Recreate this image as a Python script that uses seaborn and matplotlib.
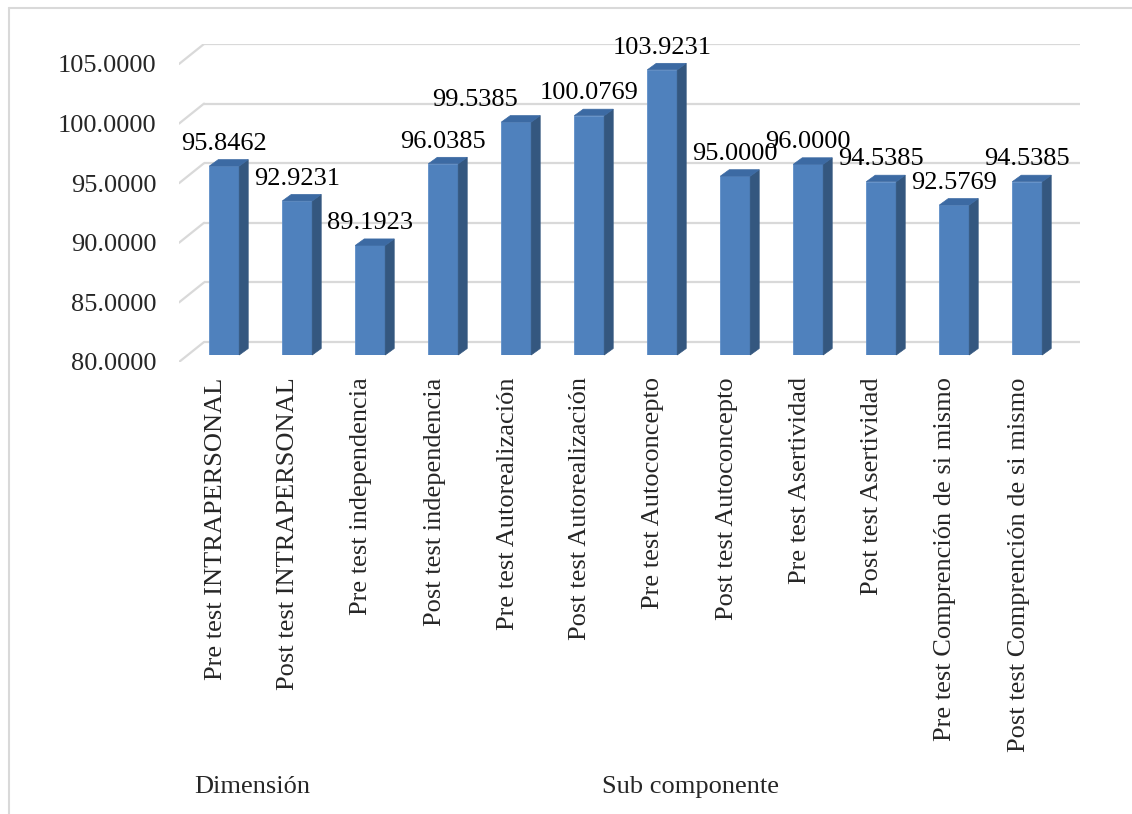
import matplotlib
matplotlib.use("Agg")
import matplotlib.pyplot as plt
import matplotlib.transforms as mtransforms
from matplotlib.patches import Polygon
from matplotlib.lines import Line2D
import seaborn as sns
import pandas as pd

# ---- data -------------------------------------------------------------
categories = [
    "Pre test INTRAPERSONAL",
    "Post test INTRAPERSONAL",
    "Pre test independencia",
    "Post test independencia",
    "Pre test Autorealización",
    "Post test Autorealización",
    "Pre test Autoconcepto",
    "Post test Autoconcepto",
    "Pre test Asertividad",
    "Post test Asertividad",
    "Pre test Comprención de si mismo",
    "Post test Comprención de si mismo",
]
values = [95.8462, 92.9231, 89.1923, 96.0385, 99.5385, 100.0769,
          103.9231, 95.0000, 96.0000, 94.5385, 92.5769, 94.5385]
groups = ["Dimensión", "Dimensión"] + ["Sub componente"] * 10
group_names = ["Dimensión", "Sub componente"]
y_ticks = [80, 85, 90, 95, 100, 105]

# ---- style ------------------------------------------------------------
sns.set_theme(style="white")
plt.rcParams["font.family"] = ["Liberation Serif", "DejaVu Serif"]
FS = 19
FRONT = "#4F81BD"
SIDE = "#34577F"
TOP = "#3C6AA3"
GRID = "#D9D9D9"

# horizontal nudge (points) for value labels that would otherwise collide
label_nudge = {4: -29.5}

W, H = 1132, 814
fig = plt.figure(figsize=(W / 100, H / 100), dpi=100)

# pseudo-3D geometry (pixels)
cat_px = 73.0
left_px, right_px = 179, 179 + 12 * cat_px + 25
top_px, bot_px = 44, 362
grid_dx, grid_dy = 25 / cat_px, 20 / ((bot_px - top_px) / 26.675)
y_lo, y_hi = y_ticks[0], y_ticks[-1] + grid_dy
x_lo, x_hi = -0.5, 11.5 + grid_dx

rect = [left_px / W, 1 - bot_px / H, (right_px - left_px) / W, (bot_px - top_px) / H]

# wall / floor grid axes
ax = fig.add_axes(rect)
ax.set_xlim(x_lo, x_hi)
ax.set_ylim(y_lo, y_hi)
for s in ax.spines.values():
    s.set_visible(False)
for t in y_ticks:
    ax.plot([-0.5 + grid_dx, 11.5 + grid_dx], [t + grid_dy, t + grid_dy],
            color=GRID, lw=1.6, solid_capstyle="butt", zorder=0)
    ax.plot([-0.5, -0.5 + grid_dx], [t, t + grid_dy],
            color=GRID, lw=1.6, zorder=0)
ax.set_yticks(y_ticks)
ax.set_yticklabels([f"{t:.4f}" for t in y_ticks], fontsize=FS)
ax.set_xticks(range(len(categories)))
ax.set_xticklabels(categories, rotation=90, fontsize=FS, va="top", ha="center")
ax.tick_params(axis="y", length=0, pad=16)
ax.tick_params(axis="x", length=0, pad=11)
ax.patch.set_alpha(0)

# bars, placed mid-depth
bar_dx_px, bar_dy_px = 8.75, 7
rect_b = [rect[0] + bar_dx_px / W, rect[1] + bar_dy_px / H, rect[2], rect[3]]
axb = fig.add_axes(rect_b)
df = pd.DataFrame({"cat": categories, "val": values})
sns.barplot(data=df, x="cat", y="val", ax=axb, width=0.41, color=FRONT,
            saturation=1, edgecolor="#5F8FC8", linewidth=0.6)
axb.set_xlim(x_lo, x_hi)
axb.set_ylim(y_lo, y_hi)
axb.axis("off")
axb.patch.set_alpha(0)

px_per_y = (bot_px - top_px) / (y_hi - y_lo)
ddx = 9 / cat_px
ddy = 6.5 / px_per_y
for i, (p, v) in enumerate(zip(axb.patches, values)):
    x0 = p.get_x()
    w = p.get_width()
    top_v = p.get_height()
    x1 = x0 + w
    side = Polygon([(x1, y_lo), (x1 + ddx, y_lo + ddy), (x1 + ddx, top_v + ddy),
                    (x1, top_v)], closed=True, facecolor=SIDE, edgecolor=SIDE,
                   lw=0.5, clip_on=False, zorder=3)
    top = Polygon([(x0, top_v), (x1, top_v), (x1 + ddx, top_v + ddy),
                   (x0 + ddx, top_v + ddy)], closed=True, facecolor=TOP,
                  edgecolor=TOP, lw=0.5, clip_on=False, zorder=3)
    axb.add_patch(side)
    axb.add_patch(top)
    axb.annotate(f"{v:.4f}", xy=(x0 + w / 2, top_v + ddy),
                 xytext=(label_nudge.get(i, 0), 7),
                 textcoords="offset points", ha="center", va="baseline",
                 fontsize=FS, color="black", annotation_clip=False, zorder=5)

# group labels below the category labels
blend = mtransforms.blended_transform_factory(ax.transData, fig.transFigure)
for g in group_names:
    idx = [i for i, gg in enumerate(groups) if gg == g]
    xc = (idx[0] + idx[-1]) / 2
    ax.text(xc, 1 - 787 / H, g, transform=blend, ha="center", va="center",
            fontsize=FS)

# chart frame
fig.add_artist(Line2D([9 / W, 9 / W], [0, 1 - 8 / H], transform=fig.transFigure,
                      color=GRID, lw=1.5))
fig.add_artist(Line2D([9 / W, 1], [1 - 8 / H, 1 - 8 / H], transform=fig.transFigure,
                      color=GRID, lw=1.5))

fig.savefig("out.png", dpi=100, facecolor="white")
